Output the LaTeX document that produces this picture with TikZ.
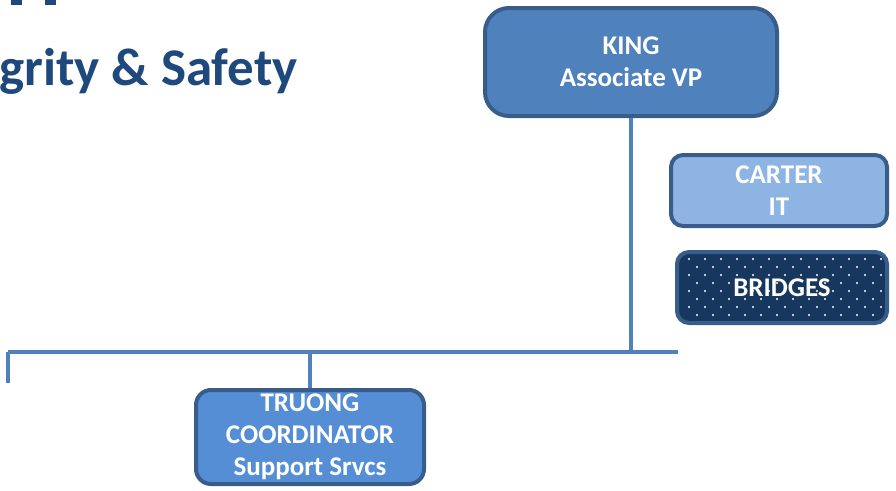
\documentclass[tikz,border=0pt]{standalone}
\usepackage{fontspec}
\setmainfont{Carlito}
\usetikzlibrary{calc}
\definecolor{bordc}{HTML}{385D8A}
\definecolor{linec}{HTML}{4F81BD}
\definecolor{kingc}{HTML}{4F81BD}
\definecolor{truongc}{HTML}{558ED5}
\definecolor{carterc}{HTML}{8EB4E3}
\definecolor{navyc}{HTML}{17375E}
\definecolor{titlec}{HTML}{1F497D}
\tikzset{
  box/.style={rectangle, draw=bordc, line width=4pt, text=white, align=center,
    font=\bfseries\fontsize{27}{32}\selectfont, inner sep=0pt},
  conn/.style={draw=linec, line width=4pt},
}
\begin{document}
\begin{tikzpicture}[x=1pt,y=-1pt]
\useasboundingbox (0,0) rectangle (896,490);
% cut-off title remnants
\fill[titlec] (11,0) rectangle (22,5);
\fill[titlec] (45,0) rectangle (56,5);
\node[anchor=base west, inner sep=0pt, text=titlec, font=\bfseries\fontsize{53}{60}\selectfont] (title) at (-1,85) {grity \& Safety};
% connectors
\coordinate (busL) at (8,352);
\coordinate (busR) at (678,352);
\coordinate (dropL) at (8,383);
\node[box, fill=kingc, rounded corners=24pt, minimum width=292pt, minimum height=108pt] (king) at (631,62) {KING\\Associate VP};
\node[box, fill=carterc, rounded corners=12pt, minimum width=216pt, minimum height=71pt] (carter) at (779,190.5) {CARTER\\IT};
\node[box, fill=navyc, rounded corners=12pt, minimum width=210pt, minimum height=71pt,
  path picture={\foreach \r in {0,...,9}{\foreach \c in {0,...,13}{%
    \pgfmathsetmacro\dx{12+16*\c+8*mod(\r,2)}\pgfmathsetmacro\dy{7+8*\r}%
    \fill[white] ($(path picture bounding box.north west)+(\dx,\dy)$) circle (1.1pt);}}}] (bridges) at (782,287.5) {BRIDGES};
\node[box, fill=truongc, rounded corners=15pt, minimum width=228pt, minimum height=94pt] (truong) at (310,437) {TRUONG\\COORDINATOR\\Support Srvcs};
\draw[conn] (king.south) -- (king.south |- busR);
\draw[conn] (busL) -- (busR);
\draw[conn] (busL) -- (dropL);
\draw[conn] (truong.north) -- (truong.north |- busL);
\end{tikzpicture}
\end{document}
